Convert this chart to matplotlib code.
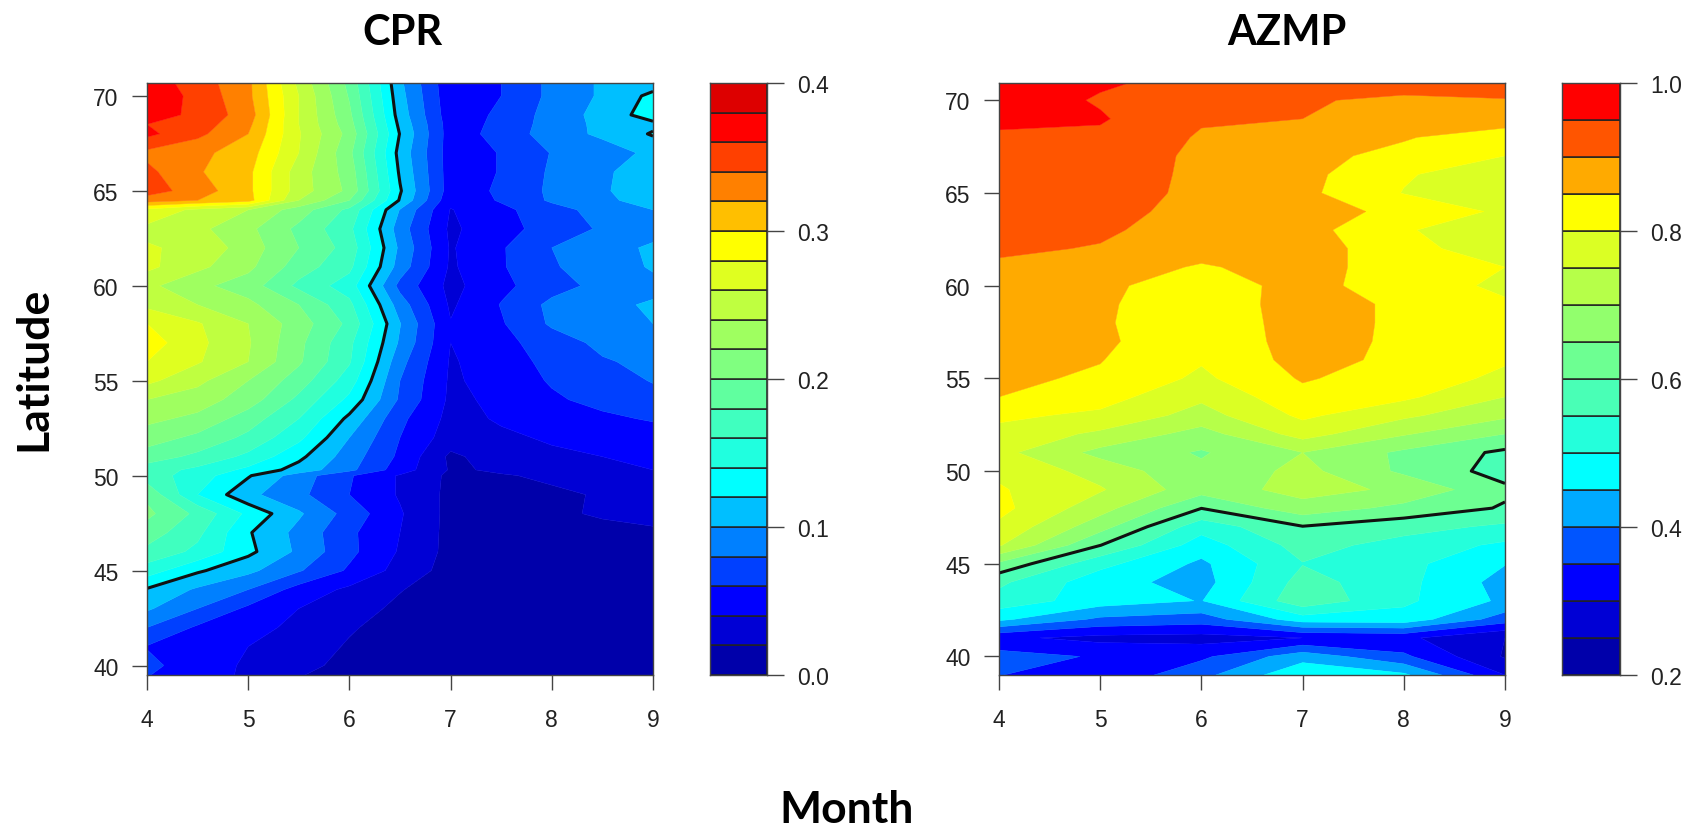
import matplotlib
matplotlib.use("Agg")
import matplotlib.pyplot as plt
import numpy as np

# ------ CPR (left panel), one row per latitude, one value per month ------
cpr_months = [4, 4.5, 5, 5.5, 6, 6.5, 7, 7.5, 8, 8.5, 9]
cpr_lat = [39.5, 40, 41, 42, 43, 44, 45, 46, 47, 48, 49, 50, 50.3, 51, 52, 53, 54, 55, 56, 57, 58, 59,
           60, 61, 62, 63, 64, 64.5, 65, 66, 67, 68, 68.5, 69, 70, 70.7]
cpr_values = [
    [.061, .048, .037, .021, .013, .007, .005, .006, .007, .007, .008],
    [.065, .050, .037, .025, .015, .008, .006, .006, .007, .008, .008],
    [.059, .050, .040, .030, .018, .010, .007, .007, .008, .008, .009],
    [.080, .057, .047, .035, .022, .012, .008, .008, .008, .009, .009],
    [.103, .080, .056, .040, .028, .016, .010, .008, .009, .009, .010],
    [.118, .097, .080, .052, .036, .021, .010, .009, .009, .010, .010],
    [.150, .123, .105, .082, .057, .033, .012, .010, .010, .010, .011],
    [.175, .155, .125, .096, .065, .038, .014, .011, .012, .013, .014],
    [.190, .165, .122, .094, .064, .040, .014, .012, .013, .015, .018],
    [.205, .175, .135, .103, .072, .042, .014, .015, .017, .022, .024],
    [.195, .140, .105, .085, .060, .038, .015, .017, .018, .021, .026],
    [.170, .150, .122, .090, .062, .038, .016, .019, .022, .030, .036],
    [.170, .155, .135, .112, .085, .050, .018, .022, .027, .033, .040],
    [.190, .175, .155, .125, .090, .056, .016, .030, .037, .040, .044],
    [.210, .195, .175, .145, .100, .060, .030, .037, .042, .046, .050],
    [.225, .215, .190, .160, .115, .065, .034, .042, .051, .056, .062],
    [.240, .230, .210, .175, .135, .077, .036, .044, .057, .066, .074],
    [.265, .245, .220, .190, .150, .080, .037, .048, .062, .072, .081],
    [.280, .262, .240, .203, .162, .087, .038, .050, .066, .078, .085],
    [.290, .265, .242, .205, .165, .097, .040, .054, .070, .085, .090],
    [.280, .262, .240, .210, .175, .101, .041, .058, .083, .092, .100],
    [.255, .240, .225, .200, .165, .090, .037, .061, .085, .096, .102],
    [.245, .225, .210, .175, .150, .074, .034, .055, .072, .086, .095],
    [.265, .245, .225, .190, .165, .091, .037, .058, .078, .090, .102],
    [.262, .255, .230, .200, .172, .096, .038, .058, .080, .090, .104],
    [.255, .245, .225, .195, .165, .090, .036, .054, .067, .083, .090],
    [.275, .255, .240, .210, .175, .099, .039, .055, .072, .088, .100],
    [.330, .320, .308, .240, .200, .118, .046, .062, .083, .096, .108],
    [.350, .330, .305, .250, .215, .122, .050, .063, .084, .098, .110],
    [.345, .322, .305, .250, .211, .117, .050, .061, .083, .097, .110],
    [.335, .325, .310, .260, .205, .113, .050, .061, .081, .090, .105],
    [.365, .345, .320, .262, .213, .119, .050, .067, .090, .104, .122],
    [.360, .350, .325, .260, .208, .115, .050, .065, .089, .105, .115],
    [.370, .355, .330, .260, .204, .111, .048, .064, .088, .107, .130],
    [.375, .354, .325, .260, .198, .107, .046, .060, .085, .103, .125],
    [.372, .350, .325, .255, .194, .104, .045, .060, .085, .103, .110],
]
cpr_levels = [0, .02, .04, .06, .08, .1, .12, .14, .16, .18, .2, .22, .24, .26, .28, .3, .32, .34, .36, .38, .4]
cpr_colors = ['#0000AA', '#0000D5', '#0000FF', '#0040FF', '#0080FF', '#00BFFF', '#00FFFF', '#20FFDF',
              '#40FFBF', '#60FF9F', '#80FF80', '#9FFF60', '#BFFF40', '#DFFF20', '#FFFF00', '#FFBF00',
              '#FF8000', '#FF4000', '#FF0000', '#DD0000']
cpr_ticks = [0, .1, .2, .3, .4]
cpr_line = .12

# ------ AZMP (right panel), one list per month, latitudes 39 to 71 ------
azmp_months = [4, 5, 6, 7, 8, 9]
azmp_lat = list(range(39, 72))
azmp_m4 = [.352, .37, .31, .46, .53, .56, .64, .755, .79, .815, .805, .79, .765, .785, .81, .85, .86, .862,
           .865, .87, .875, .885, .895, .905, .915, .92, .925, .93, .935, .94, .965, .98, .98]
azmp_m5 = [.31, .345, .285, .39, .475, .47, .515, .601, .67, .72, .755, .73, .685, .74, .79, .82, .843, .852,
           .86, .857, .858, .862, .875, .898, .905, .91, .92, .925, .93, .94, .955, .945, .957]
azmp_m6 = [.385, .34, .28, .375, .448, .43, .44, .475, .52, .601, .67, .66, .645, .68, .73, .76, .79, .805,
           .81, .81, .815, .82, .845, .87, .885, .89, .89, .89, .89, .895, .905, .925, .935]
azmp_m7 = [.49, .43, .30, .475, .585, .57, .548, .57, .598, .68, .72, .715, .70, .77, .81, .835, .855, .868,
           .872, .875, .875, .87, .87, .878, .87, .87, .862, .865, .86, .88, .90, .91, .955]
azmp_m8 = [.46, .36, .31, .48, .51, .515, .515, .53, .57, .635, .69, .64, .64, .705, .76, .81, .825, .838,
           .84, .84, .84, .82, .825, .815, .803, .838, .798, .805, .84, .853, .875, .88, .952]
azmp_m9 = [.30, .245, .25, .375, .44, .43, .452, .49, .54, .595, .61, .58, .59, .65, .71, .75, .79, .805,
           .815, .82, .805, .792, .80, .775, .78, .79, .775, .77, .80, .83, .87, .895, .952]
azmp_levels = [.2, .25, .3, .35, .4, .45, .5, .55, .6, .65, .7, .75, .8, .85, .9, .95, 1.0]
azmp_colors = ['#0000AA', '#0000D5', '#0000FF', '#0055FF', '#00AAFF', '#00FFFF', '#24FFDB', '#49FFB6',
               '#6DFF92', '#92FF6D', '#B6FF49', '#DBFF24', '#FFFF00', '#FFAA00', '#FF5500', '#FF0000']
azmp_ticks = [.2, .4, .6, .8, 1.0]
azmp_line = .6

lat_ticks = [40, 45, 50, 55, 60, 65, 70]
month_ticks = [4, 5, 6, 7, 8, 9]

W, H = 1692, 829
GRAY = '#444444'
plt.rcParams['font.family'] = ['Liberation Sans', 'DejaVu Sans']


# Axes from pixel coordinates of the picture (top left origin)
def px_axes(fig, x0, x1, y0, y1):
    return fig.add_axes([x0 / W, 1 - y1 / H, (x1 - x0) / W, (y1 - y0) / H])


def style_axis(ax):
    for s in ax.spines.values():
        s.set_color(GRAY)
        s.set_linewidth(1.0)
    ax.tick_params(length=10.5, width=1.0, color=GRAY, labelsize=16.5, labelcolor='#222222')
    ax.tick_params(axis='x', pad=13)
    ax.tick_params(axis='y', pad=10)


def panel(fig, box, months, lats, values, levels, colors, line, ylim):
    ax = px_axes(fig, *box)
    z = np.array(values)
    cs = ax.contourf(months, lats, z, levels=levels, colors=colors, extend='both', antialiased=True)
    cs.set_edgecolor('face')
    cs.set_linewidth(0.3)
    ax.contour(months, lats, z, levels=[line], colors='#111111', linewidths=2.2)
    ax.set_xlim(4, 9)
    ax.set_ylim(*ylim)
    ax.set_xticks(month_ticks)
    ax.set_yticks(lat_ticks)
    style_axis(ax)
    return ax


def colorbar(fig, box, levels, colors, ticks):
    cax = px_axes(fig, *box)
    for i, c in enumerate(colors):
        cax.bar(0.5, levels[i + 1] - levels[i], width=1, bottom=levels[i], color=c,
                edgecolor='#222222', linewidth=1.1)
    cax.set_xlim(0, 1)
    cax.set_ylim(levels[0], levels[-1])
    cax.set_xticks([])
    cax.yaxis.tick_right()
    cax.set_yticks(ticks)
    cax.set_yticklabels([f'{t:.1f}' for t in ticks])
    style_axis(cax)
    cax.tick_params(axis='y', length=12, pad=10)


def main():
    fig = plt.figure(figsize=(W / 100, H / 100), dpi=100)

    panel(fig, (147, 653, 84, 676), cpr_months, cpr_lat, cpr_values, cpr_levels, cpr_colors, cpr_line, (39.5, 70.68))
    colorbar(fig, (710, 767, 84, 676), cpr_levels, cpr_colors, cpr_ticks)

    azmp_values = np.array([azmp_m4, azmp_m5, azmp_m6, azmp_m7, azmp_m8, azmp_m9]).T
    panel(fig, (999, 1505, 84, 676), azmp_months, azmp_lat, azmp_values, azmp_levels, azmp_colors, azmp_line, (39, 70.93))
    colorbar(fig, (1562, 1620, 84, 676), azmp_levels, azmp_colors, azmp_ticks)

    # Titles and shared labels in a Calibri like bold
    big = dict(family=['Lato', 'DejaVu Sans'], fontweight='bold', color='black', ha='center', va='center')
    fig.text(402 / W, 1 - 33 / H, 'CPR', fontsize=30, **big)
    fig.text(1287 / W, 1 - 33 / H, 'AZMP', fontsize=30, **big)
    fig.text(847 / W, 1 - 810 / H, 'Month', fontsize=32, **big)
    fig.text(33 / W, 1 - 369 / H, 'Latitude', rotation=90, fontsize=32, **big)

    fig.savefig('out.png', dpi=100)


if __name__ == "__main__":
    main()
